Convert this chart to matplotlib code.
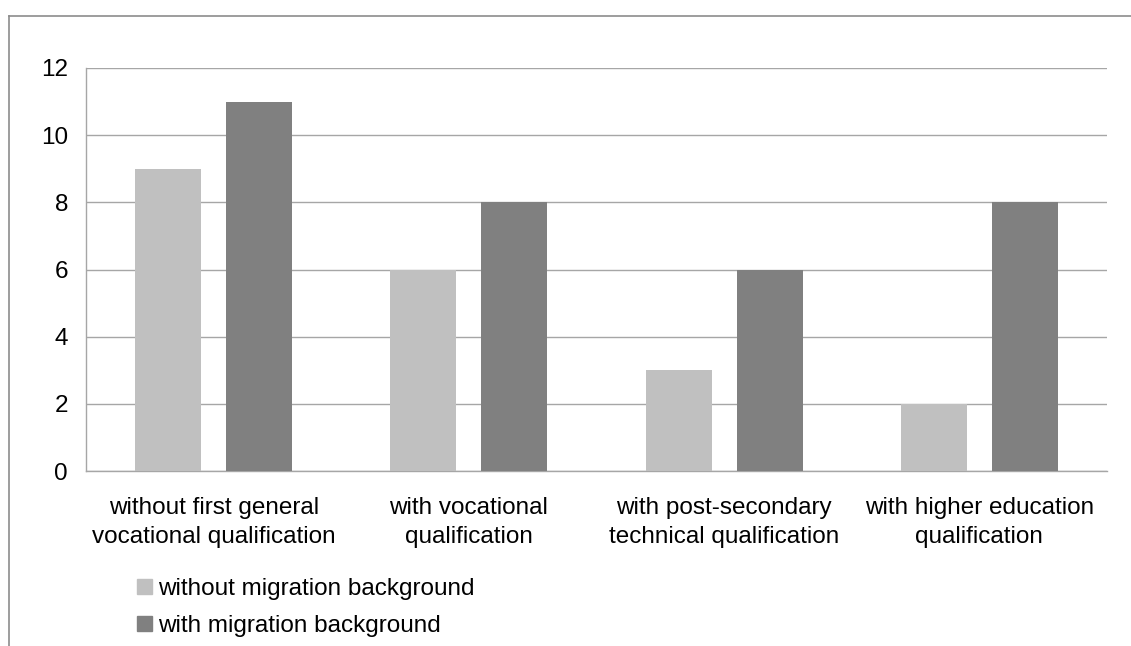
import matplotlib
matplotlib.use("Agg")
import matplotlib.pyplot as plt
import numpy as np
from matplotlib.lines import Line2D
from matplotlib.patches import Patch

categories = [
    "without first general\nvocational qualification",
    "with vocational\nqualification",
    "with post-secondary\ntechnical qualification",
    "with higher education\nqualification",
]
without_migration = [9, 6, 3, 2]
with_migration = [11, 8, 6, 8]
series_names = ["without migration background", "with migration background"]
yticks = [0, 2, 4, 6, 8, 10, 12]

plt.rcParams["font.family"] = ["Liberation Sans", "DejaVu Sans"]
FS = 17.5

fig = plt.figure(figsize=(11.31, 6.46), dpi=100)
ax = fig.add_axes([86 / 1131, 1 - 471 / 646, (1107 - 86) / 1131, (471 - 68) / 646])

x = np.arange(len(categories))
w = 0.259
off = 0.178
ax.bar(x - off, without_migration, width=w, color="#C0C0C0", zorder=3)
ax.bar(x + off, with_migration, width=w, color="#808080", zorder=3)

ax.set_xlim(-0.5, len(categories) - 0.5)
ax.set_ylim(0, 12)
ax.set_yticks(yticks)
ax.set_yticklabels([str(t) for t in yticks], fontsize=FS)
ax.yaxis.grid(True, color="#A6A6A6", linewidth=1, zorder=0)
ax.tick_params(axis="y", length=0, pad=13)
ax.tick_params(axis="x", length=0, pad=19)
ax.set_xticks(x)
ax.set_xticklabels(categories, fontsize=FS, linespacing=1.38)
for s in ["top", "right"]:
    ax.spines[s].set_visible(False)
for s in ["left", "bottom"]:
    ax.spines[s].set_color("#A6A6A6")
    ax.spines[s].set_linewidth(1)

handles = [Patch(color="#C0C0C0"), Patch(color="#808080")]
leg = fig.legend(handles, series_names, loc="upper left",
                 bbox_to_anchor=(137 / 1131, 1 - 578 / 646), frameon=False,
                 fontsize=FS, handlelength=0.6, handleheight=0.55,
                 handletextpad=0.25, labelspacing=0.62, borderpad=0,
                 borderaxespad=0)

# outer frame lines along the left and top edges
fig.add_artist(Line2D([9 / 1131, 9 / 1131], [0, 1 - 16 / 646], transform=fig.transFigure,
                      color="#8C8C8C", linewidth=1.2))
fig.add_artist(Line2D([9 / 1131, 1], [1 - 16 / 646, 1 - 16 / 646], transform=fig.transFigure,
                      color="#8C8C8C", linewidth=1.2))

fig.savefig("out.png", dpi=100)
